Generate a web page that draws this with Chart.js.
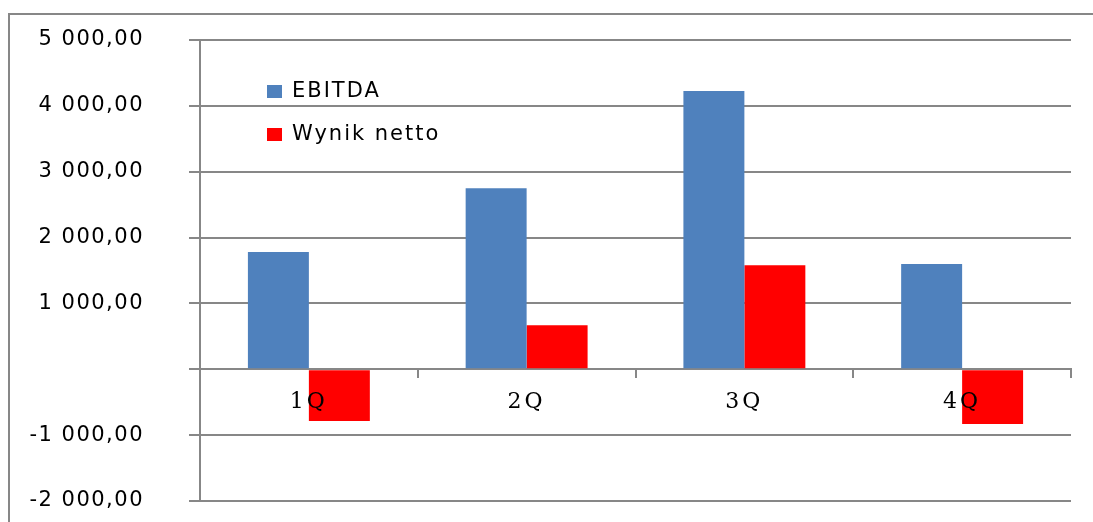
<!DOCTYPE html>
<html>
<head>
<meta charset="utf-8">
<script src="https://cdn.jsdelivr.net/npm/chart.js@4/dist/chart.umd.min.js"></script>
<style>
  html, body { margin: 0; padding: 0; background: #fff; }
  #wrap { position: relative; width: 1093px; height: 522px; }
</style>
</head>
<body>
<div id="wrap"><canvas id="chart"></canvas></div>
<script>
// dane z wykresu
const quarters = ['1Q', '2Q', '3Q', '4Q'];
const ebitda = [1780, 2750, 4225, 1600];
const wynikNetto = [-785, 670, 1580, -830];
const seriesNames = ['EBITDA', 'Wynik netto'];

const GRID = '#878787';

function fmtPl(v) {
    if (v === 0) return '';
    const neg = v < 0;
    const int = Math.floor(Math.abs(v)).toString().replace(/\B(?=(\d{3})+(?!\d))/g, ' ');
    return (neg ? '-' : '') + int + ',00';
}

// ramka + legenda w obszarze wykresu
const chromePlugin = {
    id: 'chrome',
    beforeDraw(chart) {
        const c = chart.ctx;
        c.save();
        c.strokeStyle = GRID;
        c.lineWidth = 2;
        c.beginPath();
        c.moveTo(9, 530);
        c.lineTo(9, 14);
        c.lineTo(1100, 14);
        c.stroke();
        c.restore();
        c.letterSpacing = '1.5px';
    },
    afterDatasetsDraw(chart) {
        chart.ctx.letterSpacing = '3px';
    },
    afterDraw(chart) {
        const c = chart.ctx;
        c.save();
        c.letterSpacing = '2px';
        c.font = '21px "DejaVu Sans"';
        c.textBaseline = 'middle';
        const rows = [92, 135];
        chart.data.datasets.forEach((ds, i) => {
            c.fillStyle = ds.backgroundColor;
            c.fillRect(267, rows[i] - 7, 15, 13);
            c.fillStyle = '#000';
            c.fillText(ds.label, 292, rows[i]);
        });
        c.restore();
        c.letterSpacing = '0px';
    }
};

new Chart(document.getElementById('chart'), {
    type: 'bar',
    data: {
        labels: quarters,
        datasets: [
            { label: seriesNames[0], data: ebitda, backgroundColor: '#4F81BD' },
            { label: seriesNames[1], data: wynikNetto, backgroundColor: '#FF0000' }
        ]
    },
    options: {
        responsive: true,
        maintainAspectRatio: false,
        animation: false,
        layout: { padding: { left: 0, top: 40, right: 22, bottom: 21 } },
        datasets: {
            bar: { barPercentage: 1.0, categoryPercentage: 0.56 }
        },
        plugins: {
            legend: { display: false },
            tooltip: { enabled: false }
        },
        scales: {
            x: {
                position: { y: 0 },
                afterFit(scale) { scale.height = 0; },
                grid: {
                    display: true,
                    drawOnChartArea: false,
                    drawTicks: true,
                    tickLength: 8,
                    color: GRID,
                    lineWidth: 2
                },
                border: { display: true, color: GRID, width: 2 },
                ticks: {
                    z: 1,
                    color: '#000',
                    padding: 12,
                    font: { family: '"DejaVu Serif"', size: 22 }
                }
            },
            y: {
                min: -2000,
                max: 5000,
                afterFit(scale) {
                    scale.width = 200;
                    scale.paddingTop = 0;
                    scale.paddingBottom = 0;
                },
                grid: {
                    color: GRID,
                    lineWidth: 2,
                    tickLength: 11
                },
                border: { display: true, color: GRID, width: 2 },
                ticks: {
                    stepSize: 1000,
                    color: '#000',
                    padding: 45,
                    font: { family: '"DejaVu Sans"', size: 21 },
                    callback: v => fmtPl(v)
                }
            }
        }
    },
    plugins: [chromePlugin]
});
</script>
</body>
</html>
